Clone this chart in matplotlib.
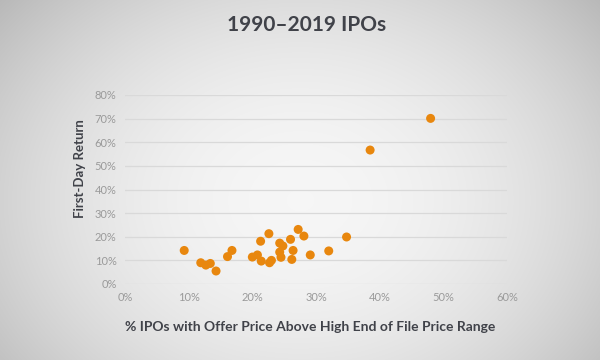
import numpy as np
import matplotlib
matplotlib.use("Agg")
import matplotlib.pyplot as plt
from matplotlib.ticker import PercentFormatter

title = "1990\u20132019 IPOs"
x_label = "% IPOs with Offer Price Above High End of File Price Range"
y_label = "First-Day Return"

pct_above_high = [9.3, 11.9, 12.7, 13.4, 14.3, 16.1, 16.8, 20.0, 20.8, 21.3, 21.4,
                  22.6, 22.7, 23.0, 24.3, 24.3, 24.8, 24.5, 26.0, 26.4, 26.2, 27.2,
                  28.1, 29.1, 32.0, 34.8, 38.5, 48.0]
first_day_return = [14.2, 9.0, 8.0, 8.7, 5.5, 11.6, 14.2, 11.4, 12.3, 18.1, 9.7,
                    21.3, 9.0, 10.0, 17.3, 13.5, 16.1, 11.3, 18.9, 14.2, 10.4, 23.1,
                    20.3, 12.3, 14.0, 19.9, 56.7, 70.1]
x_ticks = [0, 10, 20, 30, 40, 50, 60]
y_ticks = [0, 10, 20, 30, 40, 50, 60, 70, 80]

plt.rcParams['font.family'] = ['Lato', 'DejaVu Sans']

fig = plt.figure(figsize=(6, 3.6), dpi=100)

# radial gradient background
bg = fig.add_axes([0, 0, 1, 1], zorder=-10)
h, w = 360, 600
yy, xx = np.mgrid[0:h, 0:w]
r = np.sqrt(((xx - 300) / 330.0) ** 2 + ((yy - 200) / 260.0) ** 2)
val = 0.965 - 0.17 * np.clip(r, 0, 1.3) ** 2
img = np.dstack([val, val, val])
bg.imshow(img, aspect='auto', extent=[0, 1, 0, 1], origin='upper')
bg.axis('off')

ax = fig.add_axes([125 / 600, 1 - 284 / 360, (507 - 125) / 600, (284 - 95) / 360])
ax.patch.set_alpha(0)
ax.scatter(pct_above_high, first_day_return, s=42, color='#e8870e', edgecolors='none', zorder=3)
ax.set_xlim(0, 60)
ax.set_ylim(0, 80)
ax.set_xticks(x_ticks)
ax.set_yticks(y_ticks)
ax.xaxis.set_major_formatter(PercentFormatter(decimals=0))
ax.yaxis.set_major_formatter(PercentFormatter(decimals=0))
ax.grid(axis='y', color='#d9d9d9', linewidth=0.9)
ax.set_axisbelow(True)
for s in ax.spines.values():
    s.set_visible(False)
ax.tick_params(length=0, labelsize=8, labelcolor='#9a9a9a', pad=6)

fig.text(307 / 600, 1 - 25 / 360, title, ha='center', va='center', fontsize=15,
         fontweight='bold', color='#404249')
fig.text(310 / 600, 1 - 327 / 360, x_label, ha='center', va='center', fontsize=10,
         fontweight='bold', color='#404249')
fig.text(80 / 600, 1 - 169 / 360, y_label, ha='center', va='center', fontsize=9.5,
         fontweight='bold', color='#404249', rotation=90)

fig.savefig('out.png', dpi=100)
